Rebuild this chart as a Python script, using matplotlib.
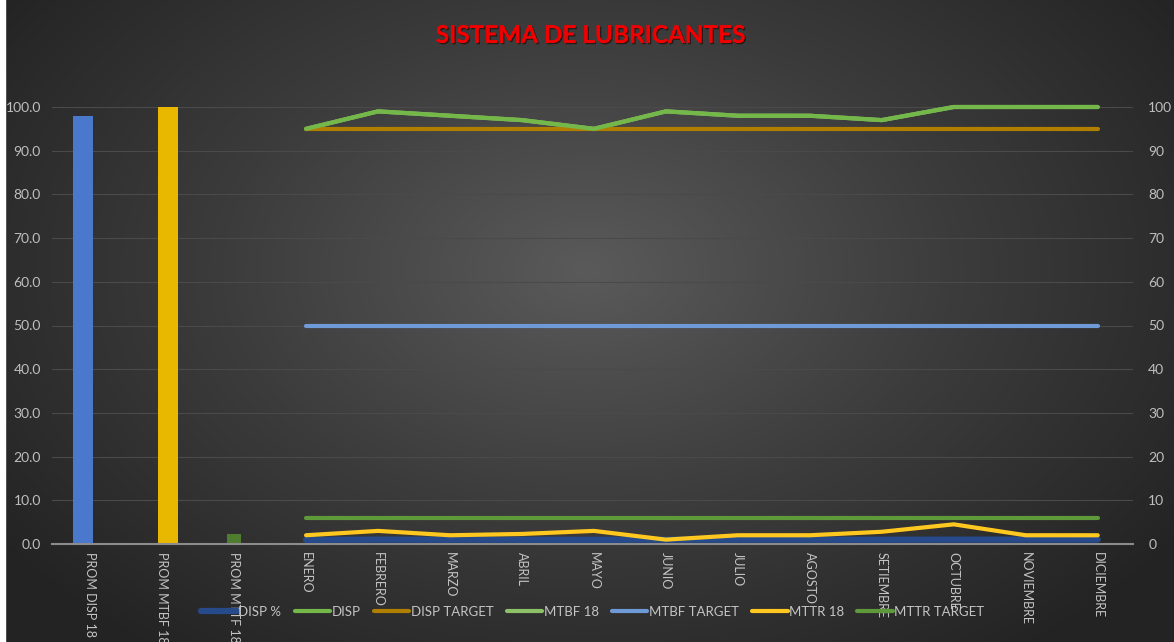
import numpy as np
import matplotlib
matplotlib.use("Agg")
import matplotlib.pyplot as plt
from matplotlib.colors import LinearSegmentedColormap
import matplotlib.patheffects as pe

plt.rcParams['font.family'] = ['Lato', 'DejaVu Sans']

# ---------------- data ----------------
categories = ["PROM DISP 18", "PROM MTBF 18", "PROM MTTF 18", "ENERO", "FEBRERO", "MARZO",
              "ABRIL", "MAYO", "JUNIO", "JULIO", "AGOSTO", "SETIEMBRE", "OCTUBRE",
              "NOVIEMBRE", "DICIEMBRE"]
months = categories[3:]

prom_disp = 98.0
prom_mtbf = 100.0
prom_mttr = 2.3

disp_pct = [0.95, 0.99, 0.98, 0.97, 0.95, 0.99, 0.98, 0.98, 0.97, 1.00, 1.00, 1.00]
disp = [95, 99, 98, 97, 95, 99, 98, 98, 97, 100, 100, 100]
disp_target = [95] * 12
mtbf_18 = [95, 99, 98, 97, 95, 99, 98, 98, 97, 100, 100, 100]
mtbf_target = [50] * 12
mttr_18 = [2.0, 3.0, 2.0, 2.3, 3.0, 1.0, 2.0, 2.0, 2.8, 4.5, 2.0, 2.0]
mttr_target = [6] * 12

# ---------------- figure ----------------
W, H = 1174, 642
fig = plt.figure(figsize=(W / 100, H / 100), dpi=100)

# radial gradient background
bg = fig.add_axes([0, 0, 1, 1], zorder=-10)
yy, xx = np.mgrid[0:H, 0:W]
cx, cy = W * 0.5, H * 0.42
r = np.sqrt(((xx - cx) / (W * 0.62)) ** 2 + ((yy - cy) / (H * 0.75)) ** 2)
r = np.clip(r, 0, 1)
cmap = LinearSegmentedColormap.from_list("bg", ["#5a5a5a", "#3c3c3c", "#232323"])
bg.imshow(r, cmap=cmap, aspect="auto", extent=[0, W, H, 0], vmin=0, vmax=1)
bg.fill_between([0, 5], 0, H, color="white")
bg.set_xlim(0, W)
bg.set_ylim(H, 0)
bg.axis("off")

left, right = 52 / W, 1133 / W
bottom, top = (H - 544) / H, (H - 107) / H
ax = fig.add_axes([left, bottom, right - left, top - bottom])
ax.set_facecolor("none")

x = np.arange(len(categories))
xm = x[3:]

# bars
ax.bar(x[0] - 0.10, prom_disp, width=0.28, color="#4a78cc", zorder=2)
ax.bar(x[1] + 0.08, prom_mtbf, width=0.28, color="#e8b800", zorder=2)
ax.bar(x[2] + 0.0, prom_mttr, width=0.19, color="#4f7d2f", zorder=2)

lw = 3.0
h_dpct, = ax.plot(xm, disp_pct, color="#264a8a", lw=4.5, zorder=3, clip_on=False, solid_capstyle="round")
h_mtbf18, = ax.plot(xm, mtbf_18, color="#8cc168", lw=lw, zorder=3, clip_on=False, solid_capstyle="round")
h_dtgt, = ax.plot(xm, disp_target, color="#b07f00", lw=lw, zorder=4, clip_on=False, solid_capstyle="round")
h_disp, = ax.plot(xm, disp, color="#74b84a", lw=lw, zorder=5, clip_on=False, solid_capstyle="round")
h_mtgt, = ax.plot(xm, mtbf_target, color="#6f9ad8", lw=lw, zorder=4, clip_on=False, solid_capstyle="round")
h_mttr, = ax.plot(xm, mttr_18, color="#ffc820", lw=lw, zorder=5, clip_on=False, solid_capstyle="round")
h_rtgt, = ax.plot(xm, mttr_target, color="#5e9a3a", lw=lw, zorder=4, clip_on=False, solid_capstyle="round")

ax.set_xlim(-0.53, 14.49)
ax.set_ylim(0, 100)
ax.set_yticks(np.arange(0, 101, 10))
ax.set_yticklabels([f"{v:.1f}" for v in np.arange(0, 101, 10)])
ax.grid(axis="y", color="#4a4a4a", lw=0.8, zorder=0)
ax.set_axisbelow(True)

ax.set_xticks(x)
ax.set_xticklabels(categories, rotation=270, va="top", ha="center")
ax.tick_params(axis="x", colors="#c4c4c4", labelsize=9, length=0, pad=6)
ax.tick_params(axis="y", colors="#bfbfbf", labelsize=10, length=0, pad=8)
for s in ["top", "right", "left"]:
    ax.spines[s].set_visible(False)
ax.spines["bottom"].set_color("#8c8c8c")
ax.spines["bottom"].set_linewidth(1.5)

ax2 = ax.twinx()
ax2.set_ylim(0, 100)
ax2.set_yticks(np.arange(0, 101, 10))
ax2.set_yticklabels([f"{v:d}" for v in range(0, 101, 10)])
ax2.tick_params(axis="y", colors="#bfbfbf", labelsize=10, length=0, pad=11)
for s in ax2.spines.values():
    s.set_visible(False)

fig.text(0.503, 0.945, "SISTEMA DE LUBRICANTES", color="#f00000", fontsize=17.5,
         fontweight="bold", ha="center", va="center",
         path_effects=[pe.withSimplePatchShadow(offset=(1, -1), shadow_rgbFace="#200000", alpha=0.6),
                       pe.Normal()])

handles = [h_dpct, h_disp, h_dtgt, h_mtbf18, h_mtgt, h_mttr, h_rtgt]
labels = ["DISP %", "DISP", "DISP TARGET", "MTBF 18", "MTBF TARGET", "MTTR 18", "MTTR TARGET"]
leg = fig.legend(handles, labels, loc="center", bbox_to_anchor=(0.505, 0.047), ncol=7,
                 frameon=False, fontsize=9.5, labelcolor="#c4c4c4", handlelength=2.7,
                 handletextpad=0.1, columnspacing=1.0)
leg.set_zorder(10)

fig.savefig("out.png", dpi=100)
